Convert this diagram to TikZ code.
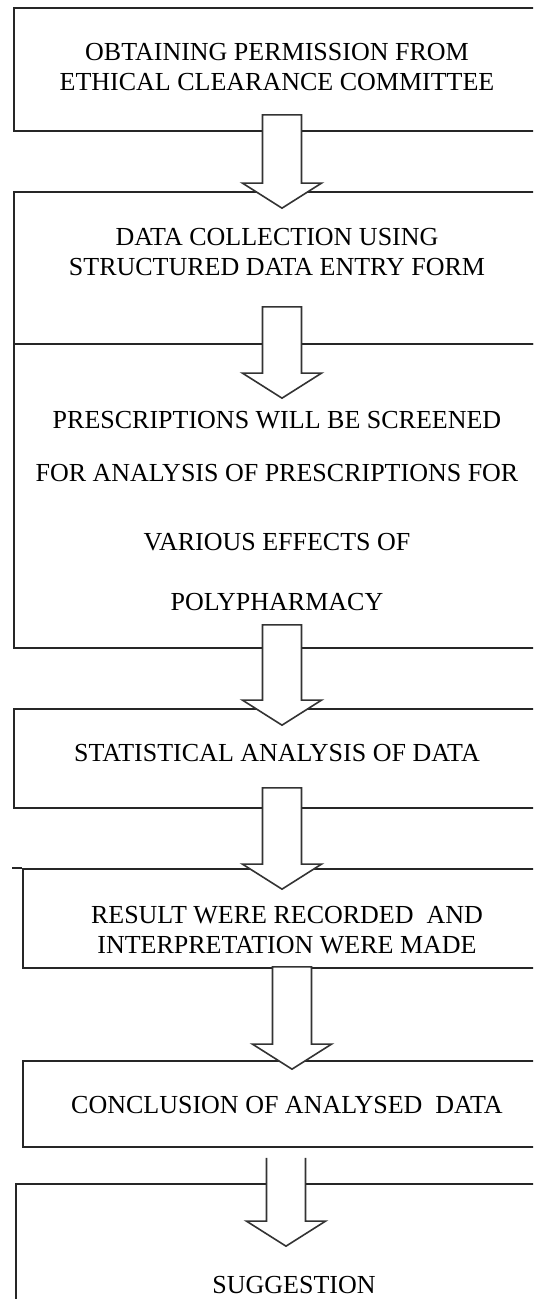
\documentclass[tikz,border=0pt]{standalone}
\usepackage{fontspec}
\setmainfont{Liberation Serif}
\usetikzlibrary{calc}

% hollow block arrow from a start point down to its tip
\newcommand{\blockarrow}[3][-- cycle]{%
  \filldraw[arrowline] let \p1=#2, \p2=#3 in
    (\x1-19.5pt,\y1) -- (\x1-19.5pt,\y2+25pt) -- (\x1-39.5pt,\y2+25pt) -- (\x1,\y2)
    -- (\x1+39.5pt,\y2+25pt) -- (\x1+19.5pt,\y2+25pt) -- (\x1+19.5pt,\y1) #1;
}

\begin{document}
\begin{tikzpicture}[x=1pt, y=-1pt,
    stepbox/.style={draw=black!85, rectangle, line width=1.7pt, inner sep=0pt},
    steptext/.style={align=center, inner sep=0pt, font=\fontsize{26}{30}\selectfont},
    arrowline/.style={draw=black!80, fill=white, line width=1.6pt, line join=miter}]
    \useasboundingbox (0,0) rectangle (533,1299);
    \clip (0,0) rectangle (533,1299);

    % Nodes (boxes)
    \node[stepbox, minimum width=526pt, minimum height=123pt] (b1) at (277,69.5) {};
    \node[stepbox, minimum width=526pt, minimum height=152pt] (b2) at (277,268) {};
    \node[stepbox, minimum width=526pt, minimum height=304pt] (b3) at (277,496) {};
    \node[stepbox, minimum width=526pt, minimum height=99pt] (b4) at (277,758.5) {};
    \node[stepbox, minimum width=528pt, minimum height=99pt] (b5) at (287,918.5) {};
    \node[stepbox, minimum width=528pt, minimum height=86pt] (b6) at (287,1104) {};
    \node[stepbox, minimum width=556pt, minimum height=156pt] (b7) at (294,1262) {};
    \draw[draw=black!85, line width=1.7pt] (b5.north west) -- ++(-10,0);

    % Arrows
    \blockarrow{($(b1.south)+(5,-17)$)}{($(b2.north)+(5,17)$)}
    \blockarrow{($(b2.south)+(5,-38)$)}{($(b3.north)+(5,55)$)}
    \blockarrow{($(b3.south)+(5,-24)$)}{($(b4.north)+(5,17)$)}
    \blockarrow{($(b4.south)+(5,-21)$)}{($(b5.north)+(-5,21)$)}
    \blockarrow{($(b5.south)+(5,-2)$)}{($(b6.north)+(5,9)$)}
    \blockarrow[]{($(b6.south)+(-1,10)$)}{($(b7.north)+(-8,63)$)}

    % Texts
    \node[steptext] (t1) at (277,67.5) {OBTAINING PERMISSION FROM\\ETHICAL CLEARANCE COMMITTEE};
    \node[steptext] (t2) at (277,252) {DATA COLLECTION USING\\STRUCTURED DATA ENTRY FORM};
    \node[steptext] (t3) at (277,511) {PRESCRIPTIONS WILL BE SCREENED\\[23pt]FOR ANALYSIS OF PRESCRIPTIONS FOR\\[39pt]VARIOUS EFFECTS OF\\[30pt]POLYPHARMACY};
    \node[steptext] (t4) at (277,753) {STATISTICAL ANALYSIS OF DATA};
    \node[steptext] (t5) at (287,930) {RESULT WERE RECORDED~ AND\\INTERPRETATION WERE MADE};
    \node[steptext] (t6) at (287,1105) {CONCLUSION OF ANALYSED~ DATA};
    \node[steptext] (t7) at (294,1285) {SUGGESTION};
\end{tikzpicture}
\end{document}
